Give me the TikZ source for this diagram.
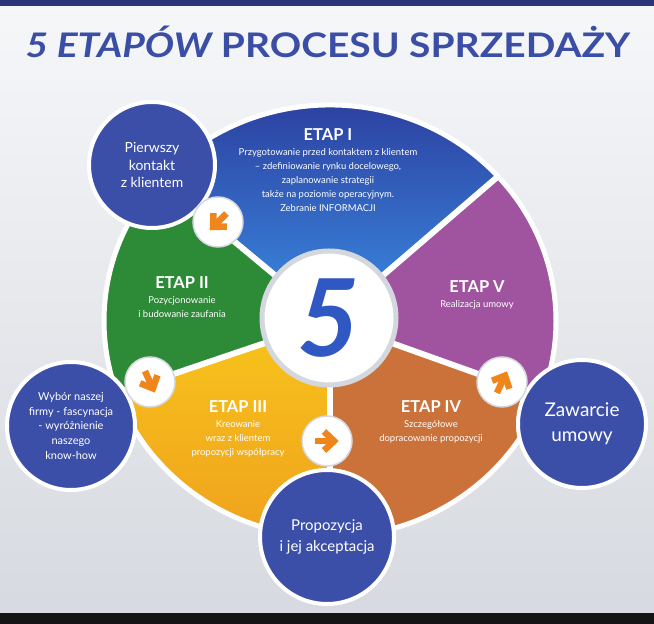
\documentclass[tikz,border=0pt]{standalone}
\usepackage{fontspec}
\setmainfont{Lato}
\usetikzlibrary{positioning}

\definecolor{navyband}{HTML}{2A3679}
\definecolor{titleblue}{HTML}{3B4EA6}
\definecolor{bgtop}{HTML}{F6F7F9}
\definecolor{bgbottom}{HTML}{D6D9DF}
\definecolor{stageblue}{HTML}{3C4FA8}
\definecolor{blueI}{HTML}{2C3E9E}
\definecolor{blueIlight}{HTML}{3A8CE3}
\definecolor{greenII}{HTML}{2D8A37}
\definecolor{yellowIII}{HTML}{F8C41B}
\definecolor{yellowIIIdark}{HTML}{EFA21D}
\definecolor{orangeIV}{HTML}{CB723A}
\definecolor{purpleV}{HTML}{A054A0}
\definecolor{ringgrey}{HTML}{D4D7DD}
\definecolor{arroworange}{HTML}{F0851C}
\definecolor{fiveblue}{HTML}{2F58C2}

\tikzset{
  turnarrow/.pic={
    \draw[arrowline] (-12,0) -- (6,0);
    \draw[arrowline] (-3,9.5) -- (7,0) -- (-3,-9.5);
  }
}

\begin{document}
\begin{tikzpicture}[
    x=1bp, y=1bp,
    node distance=7bp and 1cm,
    stagetitle/.style={text=white, inner sep=0pt, font=\bfseries\fontsize{16.5}{18}\selectfont},
    stagetext/.style={text=white, inner sep=0pt, align=center, font=\fontsize{9.5}{14}\selectfont},
    milestone/.style={circle, fill=stageblue, draw=white, line width=4bp, text=white, align=center, inner sep=0pt},
    turn/.style={circle, fill=white, draw=ringgrey, line width=1.5bp, minimum size=50bp},
    divider/.style={white, line width=6bp},
    arrowline/.style={arroworange, line width=6.5bp},
  ]
  \useasboundingbox (0,0) rectangle (654,624);

  % Background
  \shade[top color=bgtop, bottom color=bgbottom] (0,0) rectangle (654,624);
  \fill[navyband] (0,618) rectangle (654,624);
  \fill[black!92] (0,0) rectangle (654,11);

  \node (title) at (328,582) [text=titleblue, xscale=1.15, transform shape, font=\bfseries\fontsize{34}{40}\selectfont] {{\itshape 5 ETAPÓW} PROCESU SPRZEDAŻY};

  % Wheel
  \begin{scope}[shift={(330,303)}, yscale=0.956]
    \fill[purpleV] (0,0) -- (-20.5:226) arc[start angle=-20.5, end angle=42, radius=226] -- cycle;
    \shade[top color=blueI, bottom color=blueIlight] (0,0) -- (42:226) arc[start angle=42, end angle=139, radius=226] -- cycle;
    \fill[greenII] (0,0) -- (139:226) arc[start angle=139, end angle=199.5, radius=226] -- cycle;
    \shade[top color=yellowIII, bottom color=yellowIIIdark] (0,0) -- (199.5:226) arc[start angle=199.5, end angle=270, radius=226] -- cycle;
    \fill[orangeIV] (0,0) -- (270:226) arc[start angle=270, end angle=339.5, radius=226] -- cycle;
    \foreach \a in {-20.5,42,139,199.5,270}
      \draw[divider] (0,0) -- (\a:226);
    \draw[white, line width=5bp] (0,0) circle[radius=226];
  \end{scope}

  \node (hub) at (329,306) [circle, fill=white, draw=ringgrey, line width=5bp, minimum size=134bp, inner sep=0pt, text=fiveblue, font=\bfseries\itshape\fontsize{108}{108}\selectfont] {5};

  % Stages
  \node (etap1) at (328,489) [stagetitle] {ETAP I};
  \node (etap1text) [stagetext, below=of etap1] {Przygotowanie przed kontaktem z klientem\\– zdefiniowanie rynku docelowego,\\zaplanowanie strategii\\także na poziomie operacyjnym.\\Zebranie INFORMACJI};
  \node (etap2) at (182,341) [stagetitle] {ETAP II};
  \node (etap2text) [stagetext, below=of etap2] {Pozycjonowanie\\i budowanie zaufania};
  \node (etap3) at (238,217) [stagetitle] {ETAP III};
  \node (etap3text) [stagetext, below=of etap3] {Kreowanie\\wraz z klientem\\propozycji współpracy};
  \node (etap4) at (431,217) [stagetitle] {ETAP IV};
  \node (etap4text) [stagetext, below=of etap4] {Szczegółowe\\dopracowanie propozycji};
  \node (etap5) at (477,337) [stagetitle] {ETAP V};
  \node (etap5text) [stagetext, below=of etap5] {Realizacja umowy};

  % Milestones
  \node (contact) at (152,459) [milestone, minimum size=126bp, font=\fontsize{14}{18}\selectfont] {Pierwszy\\kontakt\\z klientem};
  \node (choice) at (71,198) [milestone, minimum size=128bp, font=\fontsize{11}{15}\selectfont] {Wybór naszej\\firmy - fascynacja\\- wyróżnienie\\naszego\\know-how};
  \node (offer) at (327,87) [milestone, minimum size=134bp, font=\fontsize{15}{21}\selectfont] {Propozycja\\i jej akceptacja};
  \node (deal) at (582,200) [milestone, minimum size=128bp, font=\fontsize{19}{25}\selectfont] {Zawarcie\\umowy};

  % Turns
  \node (turn1) at (218,402) [turn] {};
  \node (turn2) at (150,242) [turn] {};
  \node (turn3) at (327,183) [turn] {};
  \node (turn4) at (502,242) [turn] {};
  \pic[rotate=225] at (turn1) {turnarrow};
  \pic[rotate=-65] at (turn2) {turnarrow};
  \pic at (turn3) {turnarrow};
  \pic[rotate=65] at (turn4) {turnarrow};
\end{tikzpicture}
\end{document}
